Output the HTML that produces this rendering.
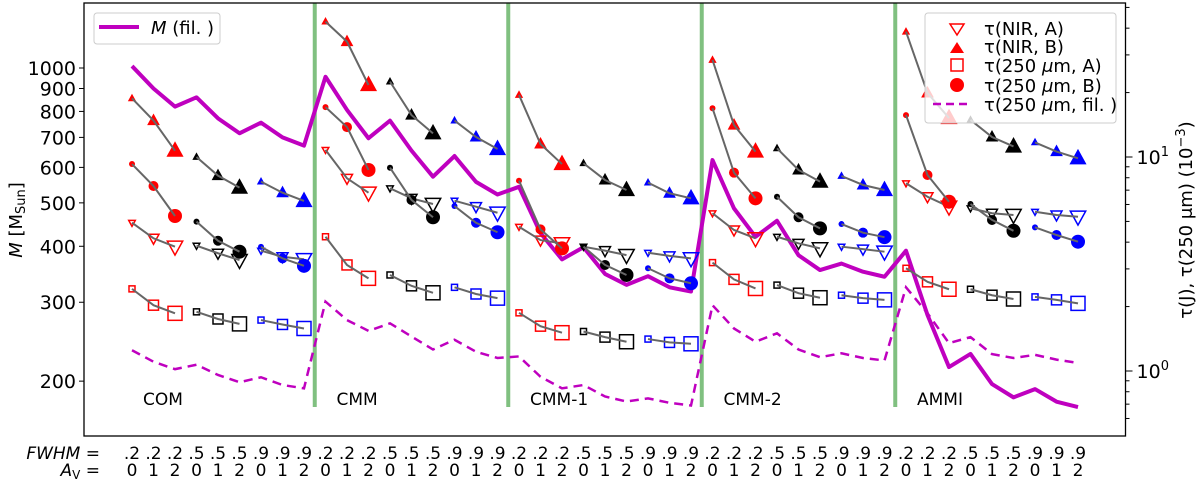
<!DOCTYPE html>
<html><head><meta charset="utf-8"><style>
body{margin:0;background:#fff;}
svg{display:block;font-family:"DejaVu Sans","Liberation Sans",sans-serif;}
</style></head><body>
<svg id="chart" width="1200" height="481" viewBox="0 0 1200 481" xmlns="http://www.w3.org/2000/svg">
<g id="bg"><rect x="84" y="3" width="1041.5" height="433" fill="#fff" stroke="none"/></g>
<g id="marks"></g>
<g id="axes"></g>
</svg>
<script>
const panels = ["COM","CMM","CMM-1","CMM-2","AMMI"];
const fwhmLabels = [".2",".2",".2",".5",".5",".5",".9",".9",".9"];
const avLabels = ["0","1","2","0","1","2","0","1","2"];
const leftTicks = [200,300,400,500,600,700,800,900,1000];
const massFil = [1010,900,820,860,772,715,755,700,671, 956,806,697,763,654,572,636,557,522, 543,428,374,398,347,328,343,324,317, 623,486,420,456,382,354,366,351,342, 391,281,215,230,197,184,192,180,175];
const tauFil = [1.25,1.105,1.02,1.07,0.958,0.886,0.935,0.86,0.83, 2.11,1.73,1.54,1.67,1.45,1.26,1.40,1.23,1.15, 1.17,0.94,0.83,0.86,0.76,0.72,0.745,0.71,0.69, 2.03,1.58,1.37,1.50,1.26,1.16,1.21,1.15,1.12, 2.46,1.86,1.35,1.44,1.20,1.15,1.19,1.13,1.09];
const tauNirB = [18.8,14.8,10.7,10.0,8.18,7.19,7.67,6.81,6.23, 42.9,34.6,21.7,22.5,15.7,12.9,14.8,12.4,10.9, 19.5,11.5,9.27,9.35,7.81,7.01,7.59,6.77,6.41, 28.4,14.1,10.6,10.98,8.70,7.67,8.15,7.40,7.01, 38.5,19.9,15.2,14.9,12.4,11.2,11.7,10.6,9.86];
const tau250B = [9.27,7.32,5.30,4.99,4.06,3.61,3.80,3.36,3.10, 17.1,13.8,8.70,8.91,6.30,5.23,5.90,4.93,4.45, 7.75,4.59,3.74,3.81,3.13,2.81,3.02,2.71,2.57, 16.9,8.45,6.41,6.52,5.23,4.64,4.86,4.43,4.22, 15.7,8.24,6.18,6.03,5.08,4.52,4.69,4.32,4.02];
const tauNirA = [4.93,4.17,3.81,3.85,3.55,3.30,3.65,3.42,3.33, 10.8,7.95,6.81,7.14,6.41,6.03,6.25,5.86,5.49, 4.72,4.09,3.95,3.81,3.65,3.48,3.57,3.45,3.36, 5.46,4.56,4.17,4.24,3.95,3.74,3.81,3.71,3.61, 7.54,6.52,5.86,5.76,5.46,5.36,5.55,5.36,5.26];
const tau250A = [2.42,2.03,1.86,1.89,1.75,1.66,1.73,1.65,1.58, 4.24,3.13,2.71,2.81,2.50,2.32,2.46,2.29,2.19, 1.87,1.62,1.51,1.53,1.44,1.37,1.41,1.36,1.34, 3.21,2.68,2.43,2.52,2.31,2.20,2.26,2.19,2.15, 3.02,2.61,2.41,2.41,2.26,2.17,2.22,2.15,2.07];

const NS="http://www.w3.org/2000/svg";
const L=84,R=1125.5,T=3,B=436;
function xPos(k){return 132+k*21.5;}
function yLeft(m){return 68+(3-Math.log10(m))*448;}
function yRight(t){return 371-Math.log10(t)*214;}
function mk(tag,attrs,parent){const e=document.createElementNS(NS,tag);for(const a in attrs)e.setAttribute(a,attrs[a]);parent.appendChild(e);return e;}
const marks=document.getElementById('marks');
const axes=document.getElementById('axes');
const groupColors=["#ff0000","#000000","#0000ff"];
const sizes=[3,5,7];

for(let p=0;p<4;p++){
  const x=xPos(p*9+8.5);
  const ln=mk('line',{x1:x,x2:x,y1:T,y2:407,stroke:'#80c080','stroke-width':4},marks);
  
  
}
let pts=massFil.map((v,k)=>xPos(k)+','+yLeft(v)).join(' ');
const mline=mk('polyline',{points:pts,fill:'none',stroke:'#bf00bf','stroke-width':4,'stroke-linejoin':'round'},marks);


pts=tauFil.map((v,k)=>xPos(k)+','+yRight(v)).join(' ');
const tline=mk('polyline',{points:pts,fill:'none',stroke:'#bf00bf','stroke-width':2.5,'stroke-dasharray':'9,6'},marks);



function marker(type,cx,cy,r,col,parent){
  let e;
  if(type==='up'){e=mk('polygon',{points:`${cx},${cy-r*1.2} ${cx-r*1.1},${cy+r*0.8} ${cx+r*1.1},${cy+r*0.8}`,fill:col,stroke:col,'stroke-width':1},parent);}
  else if(type==='down'){e=mk('polygon',{points:`${cx},${cy+r*1.2} ${cx-r*1.1},${cy-r*0.8} ${cx+r*1.1},${cy-r*0.8}`,fill:'none',stroke:col,'stroke-width':1.5},parent);}
  else if(type==='sq'){e=mk('rect',{x:cx-r,y:cy-r,width:2*r,height:2*r,fill:'none',stroke:col,'stroke-width':1.5},parent);}
  else {e=mk('circle',{cx:cx,cy:cy,r:r,fill:col},parent);}
  return e;
}
const series=[[tau250A,'sq','tau-250-a'],[tauNirA,'down','tau-nir-a'],[tau250B,'circ','tau-250-b'],[tauNirB,'up','tau-nir-b']];
series.forEach(([arr,type,name])=>{
  const g=mk('g',{},marks);
  
  
  for(let grp=0;grp<15;grp++){
    const col=groupColors[grp%3];
    const ks=[grp*3,grp*3+1,grp*3+2];
    ks.forEach((k,j)=>{
      const m=marker(type,xPos(k),yRight(arr[k]),sizes[j],col,g);
      
      
    });
    const pl=mk('polyline',{points:ks.map(k=>xPos(k)+','+yRight(arr[k])).join(' '),fill:'none',stroke:'#666','stroke-width':2},g);
    
    
  }
});
panels.forEach((p,i)=>{
  const t=mk('text',{x:xPos(i*9)+11,y:405,'font-size':17,fill:'#000'},marks);
  t.textContent=p;
  
  
});
const fr=mk('rect',{x:L,y:T,width:R-L,height:B-T,fill:'none',stroke:'#000','stroke-width':1.3},axes);


leftTicks.forEach(v=>{
  const y=yLeft(v);
  const tk=mk('line',{x1:L-5,x2:L,y1:y,y2:y,stroke:'#000','stroke-width':1},axes);
  
  
  const t=mk('text',{x:L-8,y:y+7,'font-size':19,'text-anchor':'end'},axes);
  t.textContent=v;
  
  
});
const minorR=[0.6,0.7,0.8,0.9,2,3,4,5,6,7,8,9,20,30,40,50];
minorR.forEach(v=>{
  const y=yRight(v);
  const tk=mk('line',{x1:R,x2:R+4,y1:y,y2:y,stroke:'#000','stroke-width':1},axes);
  
  
});
[[1,'0'],[10,'1']].forEach(([v,ex])=>{
  const y=yRight(v);
  const tk=mk('line',{x1:R,x2:R+7,y1:y,y2:y,stroke:'#000','stroke-width':1},axes);
  
  
  const t=mk('text',{x:R+11,y:y+7,'font-size':19},axes);
  t.innerHTML='10<tspan dy="-8" font-size="13">'+ex+'</tspan>';
  
  
});
for(let k=0;k<45;k++){
  const a=mk('text',{x:xPos(k),y:459,'font-size':17,'text-anchor':'middle'},axes);
  a.textContent=fwhmLabels[k%9];
  
  
  const b=mk('text',{x:xPos(k),y:476,'font-size':17,'text-anchor':'middle'},axes);
  b.textContent=avLabels[k%9];
  
  
}
</script>
<svg style="position:absolute;left:0;top:0" width="1200" height="481" font-family="DejaVu Sans, Liberation Sans, sans-serif">
<text x="100" y="459" font-size="17" text-anchor="end" font-style="italic">FWHM =</text>
<text x="100" y="476" font-size="17" text-anchor="end"><tspan font-style="italic">A</tspan><tspan font-size="12" dy="3">V</tspan><tspan dy="-3"> =</tspan></text>
<text transform="translate(22,220) rotate(-90)" font-size="18" text-anchor="middle"><tspan font-style="italic">M</tspan> [M<tspan font-size="13" dy="3">Sun</tspan><tspan dy="-3">]</tspan></text>
<text transform="translate(1192,220) rotate(-90)" font-size="18" text-anchor="middle">τ(J),  τ(250 μm)  (10<tspan dy="-7" font-size="13">−3</tspan><tspan dy="7">)</tspan></text>
<g>
<rect x="94" y="13" width="126" height="31" rx="3" fill="#fff" fill-opacity="0.8" stroke="#ccc"/>
<line x1="99" y1="27" x2="139" y2="27" stroke="#bf00bf" stroke-width="4"/>
<text x="151" y="34" font-size="18"><tspan font-style="italic">M</tspan> (fil. )</text>
</g>
<g font-size="18">
<rect x="925" y="13" width="191" height="110" rx="3" fill="#fff" fill-opacity="0.8" stroke="#ccc"/>
<polygon points="950,24 964,24 957,35" fill="none" stroke="#f00" stroke-width="1.5"/>
<text x="984" y="35">τ(NIR, A)</text>
<polygon points="957,42 964,53 950,53" fill="#f00"/>
<text x="984" y="53">τ(NIR, B)</text>
<rect x="951" y="59" width="12" height="12" fill="none" stroke="#f00" stroke-width="1.5"/>
<text x="984" y="72">τ(250 <tspan font-style="italic">μ</tspan>m, A)</text>
<circle cx="957" cy="85" r="7" fill="#f00"/>
<text x="984" y="92">τ(250 <tspan font-style="italic">μ</tspan>m, B)</text>
<line x1="933" y1="104" x2="969" y2="104" stroke="#bf00bf" stroke-width="2.5" stroke-dasharray="8,5"/>
<text x="984" y="111">τ(250 <tspan font-style="italic">μ</tspan>m, fil. )</text>
</g>
</svg>
</body></html>
